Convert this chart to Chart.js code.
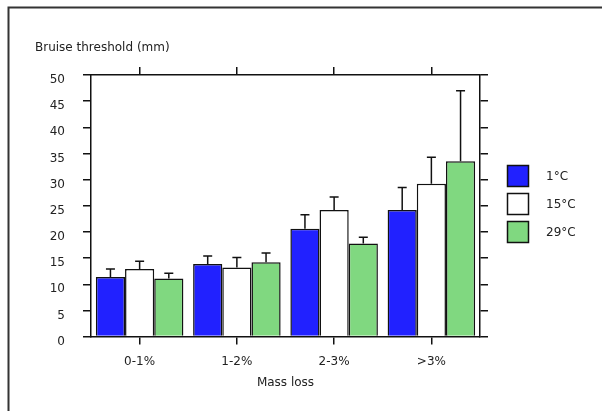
<!DOCTYPE html>
<html>
<head>
<meta charset="utf-8">
<script src="https://cdn.jsdelivr.net/npm/chart.js@4.4.1/dist/chart.umd.min.js"></script>
<style>
  body { margin: 0; background: #fff; }
  canvas { display: block; }
</style>
</head>
<body>
<canvas id="bruiseChart" width="602" height="411"></canvas>
<script>
// Data
const massLoss = ["0-1%", "1-2%", "2-3%", ">3%"];
const temps = ["1°C", "15°C", "29°C"];
const mean1C = [11.4, 13.9, 20.6, 24.2];
const mean15C = [12.9, 13.2, 24.2, 29.2];
const mean29C = [11.1, 14.2, 17.8, 33.5];
// upper error bar length (mm)
const err1C = [1.5, 1.5, 2.7, 4.3];
const err15C = [1.5, 1.9, 2.5, 5.1];
const err29C = [1.0, 1.8, 1.2, 13.5];
const yTicks = [0, 5, 10, 15, 20, 25, 30, 35, 40, 45, 50];

const FONT = "'DejaVu Sans', Verdana, sans-serif";
const INK = "#222";

// outer frame (top + left edges only, like the cropped original)
const framePlugin = {
  id: "frame",
  beforeDraw(chart) {
    const ctx = chart.ctx;
    ctx.save();
    ctx.strokeStyle = "#333";
    ctx.lineWidth = 2;
    ctx.beginPath();
    ctx.moveTo(8.5, 411);
    ctx.lineTo(8.5, 7.5);
    ctx.lineTo(602, 7.5);
    ctx.stroke();
    ctx.restore();
  },
};

// upward error bars with caps
const errorBarPlugin = {
  id: "errorBars",
  afterDatasetsDraw(chart) {
    const ctx = chart.ctx;
    const y = chart.scales.y;
    ctx.save();
    ctx.strokeStyle = "#111";
    ctx.lineWidth = 1.5;
    chart.data.datasets.forEach((ds, i) => {
      chart.getDatasetMeta(i).data.forEach((bar, j) => {
        const top = y.getPixelForValue(ds.data[j] + ds.errors[j]);
        ctx.beginPath();
        ctx.moveTo(bar.x, bar.y);
        ctx.lineTo(bar.x, top);
        ctx.moveTo(bar.x - 4.5, top);
        ctx.lineTo(bar.x + 4.5, top);
        ctx.stroke();
      });
    });
    ctx.restore();
  },
};

// y tick labels, axis titles and legend
const labelsPlugin = {
  id: "labels",
  afterDraw(chart) {
    const ctx = chart.ctx;
    const y = chart.scales.y;
    const area = chart.chartArea;
    ctx.save();
    ctx.fillStyle = INK;
    ctx.font = "12px " + FONT;
    ctx.textAlign = "right";
    ctx.textBaseline = "middle";
    yTicks.forEach((v) => {
      ctx.fillText(String(v), 65, y.getPixelForValue(v) + 5);
    });

    ctx.textAlign = "left";
    ctx.fillText("Bruise threshold (mm)", 35, 48);

    ctx.textAlign = "center";
    ctx.fillText("Mass loss", (area.left + area.right) / 2, 383);

    // legend
    ctx.textAlign = "left";
    chart.data.datasets.forEach((ds, i) => {
      const top = 165.5 + i * 28;
      ctx.fillStyle = ds.backgroundColor;
      ctx.fillRect(507.5, top, 21, 21);
      ctx.strokeStyle = "#111";
      ctx.lineWidth = 1.5;
      ctx.strokeRect(507.5, top, 21, 21);
      ctx.fillStyle = INK;
      ctx.fillText(ds.label, 546, top + 11);
    });
    ctx.restore();
  },
};

const sideAxisGrid = {
  drawOnChartArea: false,
  drawTicks: true,
  tickLength: 8,
  color: "#111",
  lineWidth: 1.5,
};
const sideBorder = { color: "#111", width: 1.5 };

new Chart(document.getElementById("bruiseChart"), {
  type: "bar",
  data: {
    labels: massLoss,
    datasets: [
      { label: temps[0], data: mean1C, errors: err1C, backgroundColor: "#2121ff" },
      { label: temps[1], data: mean15C, errors: err15C, backgroundColor: "#ffffff" },
      { label: temps[2], data: mean29C, errors: err29C, backgroundColor: "#80d880" },
    ].map((d) => Object.assign(d, { borderColor: "#111", borderWidth: 1.5 })),
  },
  options: {
    responsive: false,
    animation: false,
    devicePixelRatio: 1,
    layout: { padding: { left: 83, right: 114, top: 67, bottom: 32 } },
    datasets: { bar: { categoryPercentage: 0.9, barPercentage: 1 } },
    plugins: { legend: { display: false }, tooltip: { enabled: false } },
    scales: {
      x: {
        offset: true,
        grid: Object.assign({ offset: false }, sideAxisGrid),
        border: sideBorder,
        ticks: { color: INK, font: { family: FONT, size: 12 }, padding: 10 },
      },
      x2: {
        type: "category",
        position: "top",
        offset: true,
        grid: Object.assign({ offset: false }, sideAxisGrid),
        border: sideBorder,
        ticks: { display: false },
      },
      y: {
        min: 0,
        max: 50,
        ticks: { display: false, stepSize: 5 },
        grid: sideAxisGrid,
        border: sideBorder,
      },
      y2: {
        position: "right",
        min: 0,
        max: 50,
        ticks: { display: false, stepSize: 5 },
        grid: sideAxisGrid,
        border: sideBorder,
      },
    },
  },
  plugins: [framePlugin, errorBarPlugin, labelsPlugin],
});
</script>
</body>
</html>
